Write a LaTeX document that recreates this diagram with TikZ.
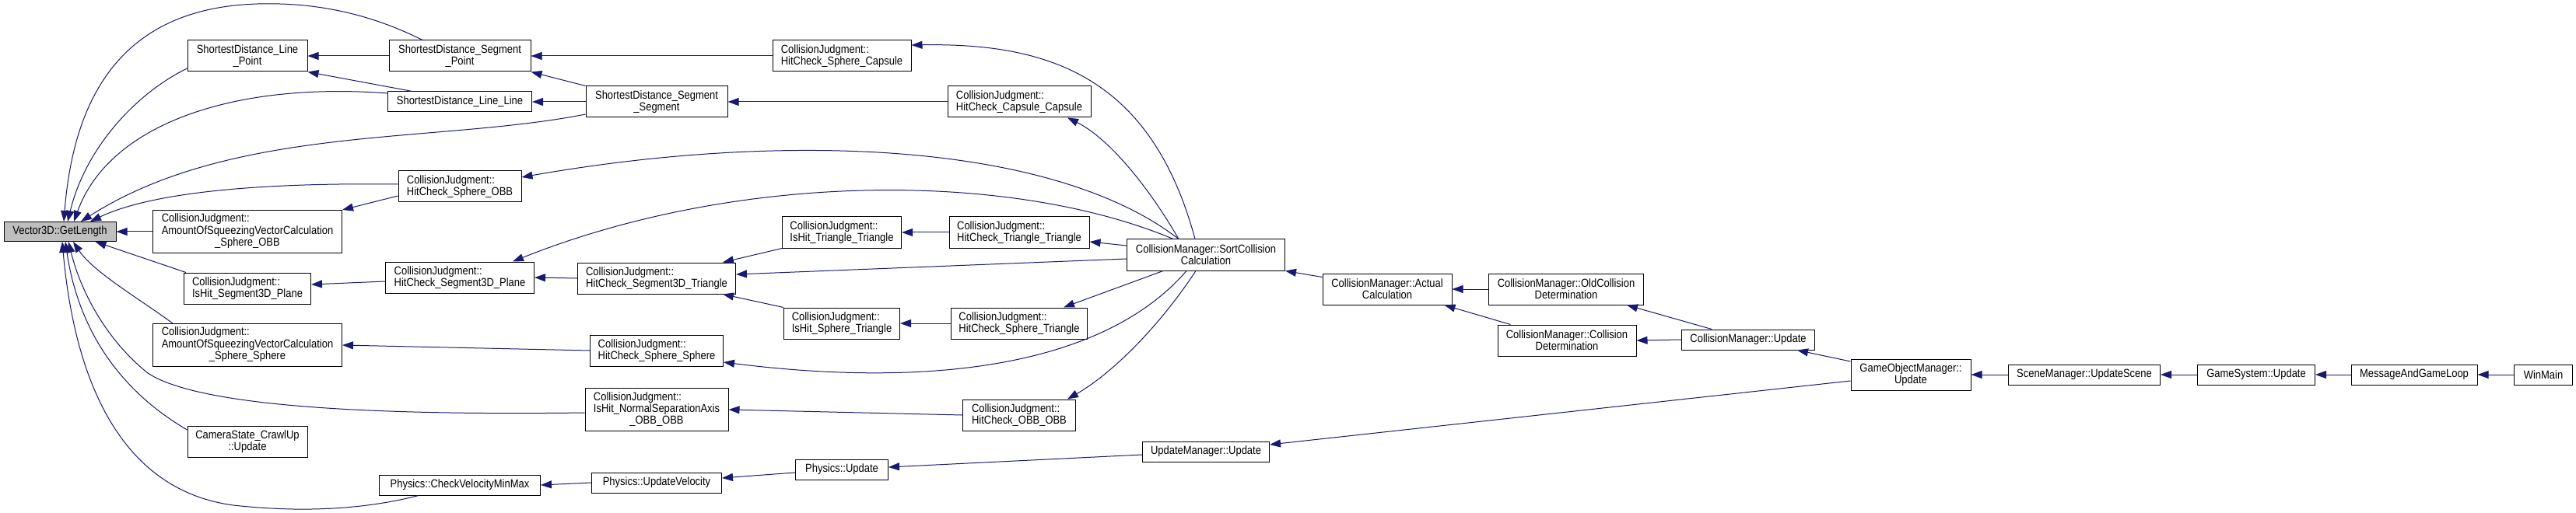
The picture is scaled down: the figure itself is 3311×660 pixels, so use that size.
\documentclass[tikz,border=0pt]{standalone}
\usepackage{fontspec}
\setmainfont{Liberation Sans}[FakeStretch=0.87]
\usetikzlibrary{arrows.meta}
\definecolor{edgecol}{HTML}{191970}
\definecolor{grayfill}{HTML}{BFBFBF}
\newcommand\nodefont{\fontsize{14.9pt}{15pt}\selectfont}
\newcommand\threeline[3]{\begin{tabular}{@{}l@{}}#1\\#2\\\multicolumn{1}{@{}c@{}}{#3}\end{tabular}}
\tikzset{
  box/.style={draw=black, line width=1pt, fill=white, inner sep=0pt, font=\nodefont, align=center},
  lbox/.style={box, align=left},
  edge/.style={draw=edgecol, line width=1pt, -{Triangle[length=14pt,width=10pt]}},
}
\begin{document}
\begin{tikzpicture}[x=1pt,y=-1pt]
\fill[white] (0,0) rectangle (3311,660);
\useasboundingbox (0,0) rectangle (3311,660);

% column 1
\node[box, fill=grayfill, minimum width=144pt, minimum height=25pt] (v) at (77,298) {Vector3D::GetLength};
% column 2
\node[box, minimum width=154pt, minimum height=40pt] (slp) at (318,72) {ShortestDistance\_Line\\\_Point};
\node[box, minimum width=243pt, minimum height=55pt] (aoso) at (318,298) {\threeline{CollisionJudgment::}{AmountOfSqueezingVectorCalculation}{\_Sphere\_OBB}};
\node[lbox, minimum width=163pt, minimum height=40pt] (ihsp) at (318,371) {CollisionJudgment::\\IsHit\_Segment3D\_Plane};
\node[box, minimum width=243pt, minimum height=55pt] (aoss) at (318,444) {\threeline{CollisionJudgment::}{AmountOfSqueezingVectorCalculation}{\_Sphere\_Sphere}};
\node[box, minimum width=154pt, minimum height=40pt] (cam) at (318,568) {CameraState\_CrawlUp\\::Update};
% column 3
\node[box, minimum width=182pt, minimum height=40pt] (ssp) at (591,72) {ShortestDistance\_Segment\\\_Point};
\node[box, minimum width=185pt, minimum height=26pt] (sll) at (591,131) {ShortestDistance\_Line\_Line};
\node[lbox, minimum width=158pt, minimum height=40pt] (hso) at (591,240) {CollisionJudgment::\\HitCheck\_Sphere\_OBB};
\node[lbox, minimum width=191pt, minimum height=40pt] (hsp) at (591,357) {CollisionJudgment::\\HitCheck\_Segment3D\_Plane};
\node[box, minimum width=207pt, minimum height=26pt] (cvm) at (591,624) {Physics::CheckVelocityMinMax};
% column 4
\node[box, minimum width=182pt, minimum height=40pt] (sss) at (844,131) {ShortestDistance\_Segment\\\_Segment};
\node[lbox, minimum width=203pt, minimum height=40pt] (hst) at (844,358) {CollisionJudgment::\\HitCheck\_Segment3D\_Triangle};
\node[lbox, minimum width=171pt, minimum height=40pt] (hss) at (844,451) {CollisionJudgment::\\HitCheck\_Sphere\_Sphere};
\node[box, minimum width=184pt, minimum height=55pt] (nsa) at (844,527) {\threeline{CollisionJudgment::}{IsHit\_NormalSeparationAxis}{\_OBB\_OBB}};
\node[box, minimum width=167pt, minimum height=26pt] (puv) at (844,621) {Physics::UpdateVelocity};
% column 5
\node[lbox, minimum width=178pt, minimum height=40pt] (hsc) at (1082,72) {CollisionJudgment::\\HitCheck\_Sphere\_Capsule};
\node[lbox, minimum width=153pt, minimum height=40pt] (itt) at (1082,299) {CollisionJudgment::\\IsHit\_Triangle\_Triangle};
\node[lbox, minimum width=149pt, minimum height=40pt] (ist) at (1082,416) {CollisionJudgment::\\IsHit\_Sphere\_Triangle};
\node[box, minimum width=119pt, minimum height=26pt] (pu) at (1082,604) {Physics::Update};
% column 6
\node[lbox, minimum width=184pt, minimum height=40pt] (hcc) at (1310,131) {CollisionJudgment::\\HitCheck\_Capsule\_Capsule};
\node[lbox, minimum width=180pt, minimum height=40pt] (htt) at (1310,299) {CollisionJudgment::\\HitCheck\_Triangle\_Triangle};
\node[lbox, minimum width=175pt, minimum height=40pt] (hstri) at (1310,416) {CollisionJudgment::\\HitCheck\_Sphere\_Triangle};
\node[lbox, minimum width=145pt, minimum height=40pt] (hoo) at (1310,534) {CollisionJudgment::\\HitCheck\_OBB\_OBB};
% column 7
\node[box, minimum width=203pt, minimum height=40pt] (scc) at (1550,328) {CollisionManager::SortCollision\\Calculation};
\node[box, minimum width=163pt, minimum height=26pt] (um) at (1550,581) {UpdateManager::Update};
% column 8..
\node[box, minimum width=166pt, minimum height=40pt] (ac) at (1783,372) {CollisionManager::Actual\\Calculation};
\node[box, minimum width=199pt, minimum height=40pt] (ocd) at (2013,372) {CollisionManager::OldCollision\\Determination};
\node[box, minimum width=178pt, minimum height=40pt] (cd) at (2014,438) {CollisionManager::Collision\\Determination};
\node[box, minimum width=171pt, minimum height=26pt] (cmu) at (2247,437) {CollisionManager::Update};
\node[box, minimum width=154pt, minimum height=40pt] (gom) at (2456,482) {GameObjectManager::\\Update};
\node[box, minimum width=195pt, minimum height=26pt] (smu) at (2679,482) {SceneManager::UpdateScene};
\node[box, minimum width=151pt, minimum height=26pt] (gsu) at (2900,482) {GameSystem::Update};
\node[box, minimum width=162pt, minimum height=26pt] (mgl) at (3103,482) {MessageAndGameLoop};
\node[box, minimum width=75pt, minimum height=26pt] (wm) at (3269,482) {WinMain};

% edges into Vector3D::GetLength
\draw[edge] ([xshift=-48]ssp.north) .. controls (470,15) and (400,3) .. (331,5) .. controls (160,10) and (95,120) .. ([xshift=5]v.north);
\draw[edge] ([yshift=-16]slp.west) .. controls (175,120) and (110,190) .. ([xshift=10]v.north);
\draw[edge] ([yshift=11]sll.west) .. controls (300,105) and (140,160) .. ([xshift=18]v.north);
\draw[edge] ([yshift=-16]sss.west) .. controls (560,185) and (300,160) .. ([xshift=27]v.north);
\draw[edge] ([yshift=3]hso.west) .. controls (350,235) and (200,245) .. ([xshift=39]v.north);
\draw[edge] (aoso.west) -- (v.east);
\draw[edge] ([xshift=3]ihsp.north west) -- ([xshift=-27]v.south east);
\draw[edge] ([xshift=-96]aoss.north) .. controls (180,385) and (120,350) .. ([xshift=17]v.south);
\draw[edge] ([yshift=-4]nsa.west) .. controls (450,535) and (250,520) .. (190,480) .. controls (140,440) and (105,380) .. ([xshift=11]v.south);
\draw[edge] ([yshift=15]cam.west) .. controls (150,500) and (100,420) .. ([xshift=7]v.south);
\draw[edge] ([xshift=-53]cvm.south) .. controls (470,655) and (390,660) .. (300,650) .. controls (150,630) and (95,480) .. ([xshift=3]v.south);

% shortest distance group
\draw[edge] (ssp.west) -- (slp.east);
\draw[edge] ([xshift=-61]sll.north) -- (slp.south east);
\draw[edge] (sss.north west) -- (ssp.south east);
\draw[edge] (sss.west) -- (sll.east);
\draw[edge] (hsc.west) -- (ssp.east);
\draw[edge] (hcc.west) -- (sss.east);
\draw[edge] ([yshift=-12]hso.west) -- (aoso.north east);
\draw[edge] ([yshift=-5]hsp.west) -- ([yshift=5]ihsp.east);
\draw[edge] (hst.west) -- (hsp.east);
\draw[edge] (itt.south west) -- ([xshift=-17]hst.north east);
\draw[edge] (ist.north west) -- ([xshift=-17]hst.south east);
\draw[edge] (htt.west) -- (itt.east);
\draw[edge] (hstri.west) -- (ist.east);
\draw[edge] (hss.west) -- (aoss.east);
\draw[edge] (hoo.west) -- (nsa.east);

% from SortCollisionCalculation
\draw[edge] ([xshift=-14]scc.north) .. controls (1480,100) and (1350,55) .. ([yshift=14]hsc.east);
\draw[edge] ([xshift=-35]scc.north) .. controls (1470,230) and (1420,175) .. ([xshift=62]hcc.south);
\draw[edge] ([xshift=-35]scc.north) .. controls (1350,180) and (1000,170) .. ([yshift=12]hso.east);
\draw[edge] ([xshift=-42]scc.north) .. controls (1300,220) and (950,220) .. ([xshift=68]hsp.north);
\draw[edge] ([yshift=-5]scc.west) -- ([yshift=5]hst.east);
\draw[edge] ([yshift=12]scc.west) -- ([yshift=-12]htt.east);
\draw[edge] ([xshift=-55]scc.south) -- ([xshift=57]hstri.north);
\draw[edge] ([xshift=-25]scc.south) .. controls (1420,470) and (1200,500) .. ([yshift=-15]hss.east);
\draw[edge] ([xshift=-13]scc.south) .. controls (1490,420) and (1430,480) .. ([xshift=62]hoo.north);

% physics chain
\draw[edge] (puv.west) -- (cvm.east);
\draw[edge] ([yshift=-4]pu.west) -- ([yshift=6]puv.east);
\draw[edge] ([yshift=-4]um.west) -- ([yshift=3]pu.east);
\draw[edge] ([yshift=-8]gom.west) -- ([yshift=9]um.east);

% collision manager chain
\draw[edge] ([yshift=-5]ac.north west) -- (scc.south east);
\draw[edge] (ocd.west) -- (ac.east);
\draw[edge] ([xshift=17]cd.north west) -- ([xshift=-10]ac.south east);
\draw[edge] ([xshift=39]cmu.north west) -- ([xshift=-22]ocd.south east);
\draw[edge] (cmu.west) -- (cd.east);
\draw[edge] ([yshift=17]gom.west) -- ([xshift=-23]cmu.south east);

% main chain
\draw[edge] (smu.west) -- (gom.east);
\draw[edge] (gsu.west) -- (smu.east);
\draw[edge] (mgl.west) -- (gsu.east);
\draw[edge] (wm.west) -- (mgl.east);
\end{tikzpicture}
\end{document}
